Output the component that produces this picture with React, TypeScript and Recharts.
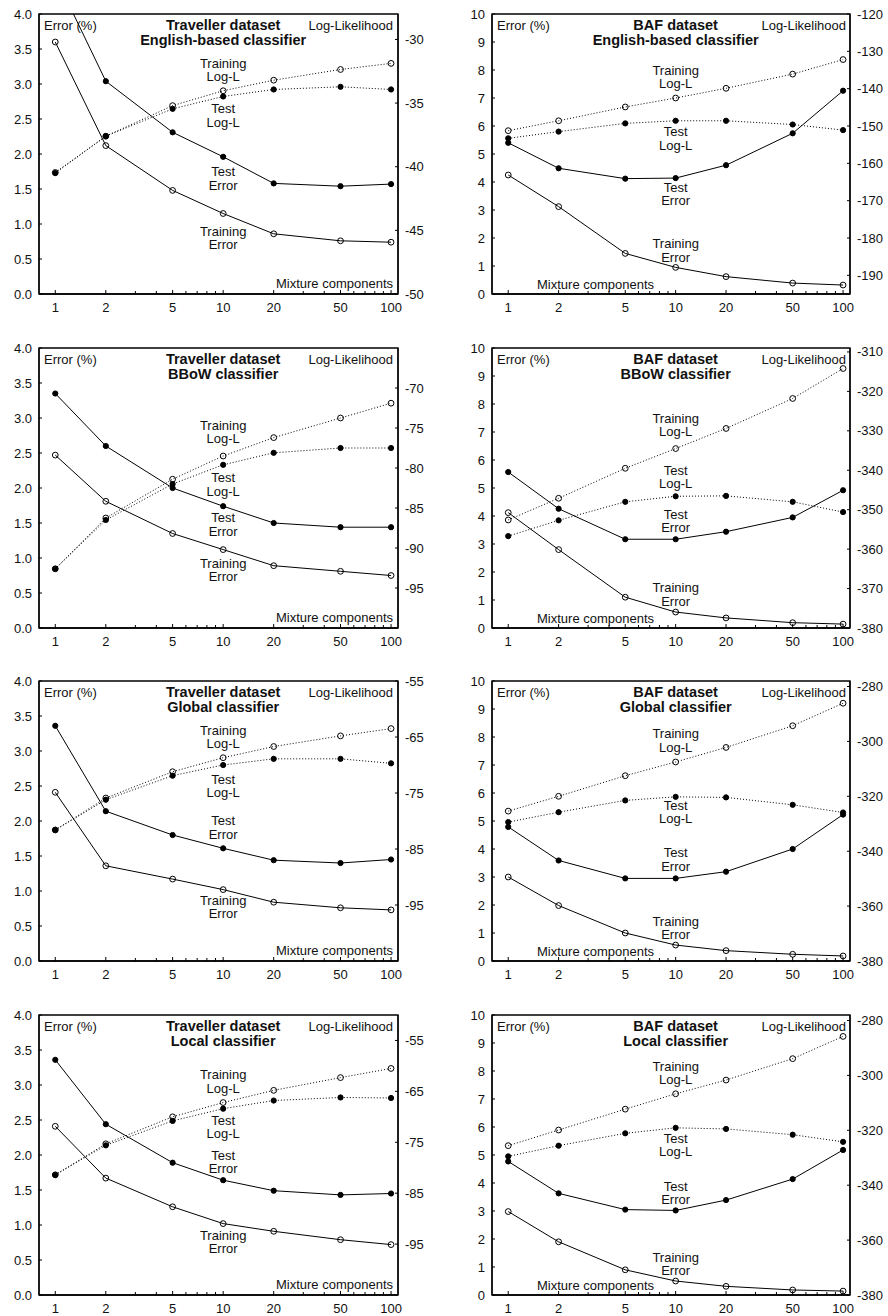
import React from 'react';
import { LineChart, Line, XAxis, YAxis, ReferenceArea, ReferenceDot } from 'recharts';

const components = [1, 2, 5, 10, 20, 50, 100];
const majorTicks = [1, 2, 5, 10, 20, 50, 100];
const xTicks = [1, 2, 3, 4, 5, 6, 7, 8, 9, 10, 20, 30, 40, 50, 60, 70, 80, 90, 100];

const travErrTicks = [0, 0.5, 1, 1.5, 2, 2.5, 3, 3.5, 4];
const bafErrTicks = [0, 1, 2, 3, 4, 5, 6, 7, 8, 9, 10];

// Traveller dataset, English-based classifier
const travEngTrainErr = [3.6, 2.12, 1.48, 1.15, 0.86, 0.76, 0.74];
const travEngTestErr = [4.54, 3.04, 2.31, 1.96, 1.58, 1.54, 1.57];
const travEngTrainLL = [-40.45, -37.6, -35.2, -34.03, -33.2, -32.36, -31.88];
const travEngTestLL = [-40.5, -37.6, -35.45, -34.48, -33.93, -33.72, -33.93];
const travEngLLTicks = [-50, -45, -40, -35, -30];

// BAF dataset, English-based classifier
const bafEngTrainErr = [4.25, 3.12, 1.45, 0.95, 0.62, 0.39, 0.32];
const bafEngTestErr = [5.4, 4.49, 4.12, 4.14, 4.6, 5.74, 7.26];
const bafEngTrainLL = [-151.25, -148.6, -144.9, -142.5, -139.9, -136.1, -132.2];
const bafEngTestLL = [-153.3, -151.5, -149.3, -148.6, -148.6, -149.6, -151.1];
const bafEngLLTicks = [-190, -180, -170, -160, -150, -140, -130, -120];

// Traveller dataset, BBoW classifier
const travBowTrainErr = [2.47, 1.81, 1.35, 1.12, 0.89, 0.81, 0.75];
const travBowTestErr = [3.35, 2.6, 2.0, 1.74, 1.5, 1.44, 1.44];
const travBowTrainLL = [-92.6, -86.25, -81.4, -78.5, -76.2, -73.75, -71.9];
const travBowTestLL = [-92.6, -86.5, -82.0, -79.6, -78.1, -77.5, -77.5];
const travBowLLTicks = [-95, -90, -85, -80, -75, -70];

// BAF dataset, BBoW classifier
const bafBowTrainErr = [4.12, 2.8, 1.1, 0.57, 0.36, 0.19, 0.14];
const bafBowTestErr = [5.57, 4.26, 3.17, 3.17, 3.44, 3.95, 4.92];
const bafBowTrainLL = [-352.6, -347.1, -339.5, -334.5, -329.4, -321.8, -314.2];
const bafBowTestLL = [-356.7, -352.7, -348.0, -346.6, -346.5, -348.0, -350.6];
const bafBowLLTicks = [-380, -370, -360, -350, -340, -330, -320, -310];

// Traveller dataset, Global classifier
const travGloTrainErr = [2.41, 1.36, 1.17, 1.02, 0.84, 0.76, 0.73];
const travGloTestErr = [3.36, 2.14, 1.8, 1.61, 1.44, 1.4, 1.45];
const travGloTrainLL = [-81.6, -75.9, -71.2, -68.7, -66.7, -64.8, -63.5];
const travGloTestLL = [-81.6, -76.2, -71.9, -70.0, -68.9, -68.9, -69.7];
const travGloLLTicks = [-95, -85, -75, -65, -55];

// BAF dataset, Global classifier
const bafGloTrainErr = [3.0, 1.98, 1.0, 0.57, 0.37, 0.24, 0.18];
const bafGloTestErr = [4.79, 3.59, 2.95, 2.95, 3.19, 4.0, 5.23];
const bafGloTrainLL = [-325.4, -320.0, -312.5, -307.5, -302.2, -294.3, -286.1];
const bafGloTestLL = [-329.4, -325.8, -321.5, -320.2, -320.4, -323.1, -325.9];
const bafGloLLTicks = [-380, -360, -340, -320, -300, -280];

// Traveller dataset, Local classifier
const travLocTrainErr = [2.41, 1.67, 1.26, 1.02, 0.91, 0.79, 0.72];
const travLocTestErr = [3.36, 2.44, 1.89, 1.64, 1.49, 1.43, 1.45];
const travLocTrainLL = [-81.4, -75.3, -70.0, -67.2, -64.8, -62.3, -60.5];
const travLocTestLL = [-81.4, -75.6, -70.8, -68.4, -66.8, -66.2, -66.3];
const travLocLLTicks = [-95, -85, -75, -65, -55];

// BAF dataset, Local classifier
const bafLocTrainErr = [2.98, 1.9, 0.9, 0.5, 0.31, 0.18, 0.14];
const bafLocTestErr = [4.77, 3.63, 3.05, 3.02, 3.39, 4.14, 5.18];
const bafLocTrainLL = [-325.6, -319.9, -312.3, -306.7, -301.7, -293.9, -285.8];
const bafLocTestLL = [-329.5, -325.6, -321.1, -319.1, -319.5, -321.6, -324.2];
const bafLocLLTicks = [-380, -360, -340, -320, -300, -280];

const FONT = '"Liberation Sans", Arial, Helvetica, sans-serif';
const INK = '#111';

const panels = [
  { dataset: 'Traveller dataset', clf: 'English-based classifier', baf: false,
    trainErr: travEngTrainErr, testErr: travEngTestErr, trainLL: travEngTrainLL, testLL: travEngTestLL,
    llDomain: [-50, -28], llTicks: travEngLLTicks, labelY: [3.2, 2.55, 1.65, 0.8] },
  { dataset: 'BAF dataset', clf: 'English-based classifier', baf: true,
    trainErr: bafEngTrainErr, testErr: bafEngTestErr, trainLL: bafEngTrainLL, testLL: bafEngTestLL,
    llDomain: [-195, -120], llTicks: bafEngLLTicks, labelY: [7.74, 5.56, 3.57, 1.56] },
  { dataset: 'Traveller dataset', clf: 'BBoW classifier', baf: false,
    trainErr: travBowTrainErr, testErr: travBowTestErr, trainLL: travBowTrainLL, testLL: travBowTestLL,
    llDomain: [-100, -65], llTicks: travBowLLTicks, labelY: [2.8, 2.05, 1.48, 0.83] },
  { dataset: 'BAF dataset', clf: 'BBoW classifier', baf: true,
    trainErr: bafBowTrainErr, testErr: bafBowTestErr, trainLL: bafBowTrainLL, testLL: bafBowTestLL,
    llDomain: [-380, -309], llTicks: bafBowLLTicks, labelY: [7.26, 5.4, 3.82, 1.2] },
  { dataset: 'Traveller dataset', clf: 'Global classifier', baf: false,
    trainErr: travGloTrainErr, testErr: travGloTestErr, trainLL: travGloTrainLL, testLL: travGloTestLL,
    llDomain: [-105, -55], llTicks: travGloLLTicks, labelY: [3.2, 2.5, 1.91, 0.77] },
  { dataset: 'BAF dataset', clf: 'Global classifier', baf: true,
    trainErr: bafGloTrainErr, testErr: bafGloTestErr, trainLL: bafGloTrainLL, testLL: bafGloTestLL,
    llDomain: [-380, -278], llTicks: bafGloLLTicks, labelY: [7.88, 5.32, 3.62, 1.17] },
  { dataset: 'Traveller dataset', clf: 'Local classifier', baf: false,
    trainErr: travLocTrainErr, testErr: travLocTestErr, trainLL: travLocTrainLL, testLL: travLocTestLL,
    llDomain: [-105, -50], llTicks: travLocLLTicks, labelY: [3.05, 2.4, 1.9, 0.76] },
  { dataset: 'BAF dataset', clf: 'Local classifier', baf: true,
    trainErr: bafLocTrainErr, testErr: bafLocTestErr, trainLL: bafLocTrainLL, testLL: bafLocTestLL,
    llDomain: [-380, -278], llTicks: bafLocLLTicks, labelY: [7.93, 5.36, 3.65, 1.1] },
];

const seriesNames = [['Training', 'Log-L'], ['Test', 'Log-L'], ['Test', 'Error'], ['Training', 'Error']];

const txt = { fontFamily: FONT, fontSize: 13, fill: INK };

const XTick = (props: any) => {
  const { x, y, payload } = props;
  const major = majorTicks.includes(payload.value);
  return (
    <g>
      <line x1={x} x2={x} y1={y} y2={y - (major ? 4 : 3)} stroke="#000" strokeWidth={1} />
      {major && (
        <text x={x} y={y + 18} textAnchor="middle" {...txt}>{payload.value}</text>
      )}
    </g>
  );
};

const LeftTick = (props: any) => {
  const { x, y, payload, baf } = props;
  const label = baf ? String(payload.value) : payload.value.toFixed(1);
  return (
    <g>
      <line x1={x} x2={x + 3} y1={y} y2={y} stroke="#000" strokeWidth={1} />
      <text x={x - 7} y={y + 4.5} textAnchor="end" {...txt}>{label}</text>
    </g>
  );
};

const RightTick = (props: any) => {
  const { x, y, payload } = props;
  return (
    <g>
      <line x1={x} x2={x - 3} y1={y} y2={y} stroke="#000" strokeWidth={1} />
      <text x={x + 7} y={y + 4.5} textAnchor="start" {...txt}>{payload.value}</text>
    </g>
  );
};

function Panel({ p, left, top }: any) {
  const data = components.map((n, i) => ({
    n,
    trainErr: p.trainErr[i],
    testErr: p.testErr[i],
    trainLL: p.trainLL[i],
    testLL: p.testLL[i],
  }));
  const errDomain = p.baf ? [0, 10] : [0, 4];
  const errTicks = p.baf ? bafErrTicks : travErrTicks;

  const corners = (lp: any) => {
    const vb = lp.viewBox;
    return (
      <g>
        <rect x={vb.x + 3} y={vb.y + 4} width={58} height={14} fill="#fff" />
        <text x={vb.x + 5} y={vb.y + 15.5} textAnchor="start" {...txt}>Error (%)</text>
        <text x={vb.x + vb.width - (p.baf ? 4 : 5)} y={vb.y + 15.5} textAnchor="end" {...txt}>Log-Likelihood</text>
        {p.baf ? (
          <text x={vb.x + 45} y={vb.y + vb.height - 5.5} textAnchor="start" {...txt}>Mixture components</text>
        ) : (
          <text x={vb.x + vb.width - 5} y={vb.y + vb.height - 6} textAnchor="end" {...txt}>Mixture components</text>
        )}
      </g>
    );
  };

  const title = (lp: any) => {
    const vb = lp.viewBox;
    const cx = vb.x + vb.width / 2;
    const cy = vb.y + vb.height / 2;
    return (
      <g>
        <text x={cx} y={cy + 15.5} textAnchor="middle" fontFamily={FONT} fontSize={14.5} fontWeight="bold" fill={INK}>{p.dataset}</text>
        <text x={cx} y={cy + 30.5} textAnchor="middle" fontFamily={FONT} fontSize={14.5} fontWeight="bold" fill={INK}>{p.clf}</text>
      </g>
    );
  };

  const twoLine = (a: string, b: string) => (lp: any) => {
    const vb = lp.viewBox;
    const cx = vb.x + vb.width / 2;
    const cy = vb.y + vb.height / 2;
    return (
      <g>
        <text x={cx} y={cy - 2.2} textAnchor="middle" {...txt}>{a}</text>
        <text x={cx} y={cy + 11.2} textAnchor="middle" {...txt}>{b}</text>
      </g>
    );
  };

  const openDot = { r: 2.9, fill: 'none', stroke: '#000', strokeWidth: 1, strokeDasharray: 'none' };
  const fullDot = { r: 2.6, fill: '#000', stroke: '#000', strokeWidth: 1, strokeDasharray: 'none' };

  return (
    <div style={{ position: 'absolute', left, top }}>
      <LineChart width={444} height={334} data={data} margin={{ top: 14, right: 0, bottom: 0, left: 0 }}>
        <XAxis
          dataKey="n"
          type="number"
          scale="log"
          domain={[0.8, 110]}
          allowDataOverflow
          ticks={xTicks}
          interval={0}
          height={40}
          tickSize={0}
          tickMargin={0}
          tickLine={false}
          axisLine={{ stroke: '#000', strokeWidth: 1.3 }}
          tick={(tp: any) => <XTick {...tp} />}
        />
        <YAxis
          yAxisId="err"
          type="number"
          domain={errDomain}
          allowDataOverflow
          ticks={errTicks}
          interval={0}
          width={p.baf ? 48 : 39}
          tickSize={0}
          tickMargin={0}
          tickLine={false}
          axisLine={{ stroke: '#000', strokeWidth: 1.3 }}
          tick={(tp: any) => <LeftTick {...tp} baf={p.baf} />}
        />
        <YAxis
          yAxisId="ll"
          orientation="right"
          type="number"
          domain={p.llDomain}
          allowDataOverflow
          ticks={p.llTicks}
          interval={0}
          width={p.baf ? 38 : 46}
          tickSize={0}
          tickMargin={0}
          tickLine={false}
          axisLine={{ stroke: '#000', strokeWidth: 1.3 }}
          tick={(tp: any) => <RightTick {...tp} />}
        />
        <ReferenceArea
          yAxisId="err"
          x1={0.8}
          x2={110}
          y1={errDomain[0]}
          y2={errDomain[1]}
          fill="none"
          stroke="#000"
          strokeWidth={1.3}
          label={{ content: corners }}
        />
        <ReferenceDot
          yAxisId="err"
          x={10}
          y={errDomain[1]}
          r={0.1}
          fill="none"
          stroke="none"
          ifOverflow="visible"
          label={{ content: title }}
        />
        {seriesNames.map((s, i) => (
          <ReferenceDot
            key={s.join('-') + i}
            yAxisId="err"
            x={10}
            y={p.labelY[i]}
            r={0.1}
            fill="none"
            stroke="none"
            label={{ content: twoLine(s[0], s[1]) }}
          />
        ))}
        <Line yAxisId="ll" dataKey="trainLL" stroke="#000" strokeWidth={1} strokeDasharray="1 2"
          dot={openDot} activeDot={false} isAnimationActive={false} />
        <Line yAxisId="ll" dataKey="testLL" stroke="#000" strokeWidth={1} strokeDasharray="1 2"
          dot={fullDot} activeDot={false} isAnimationActive={false} />
        <Line yAxisId="err" dataKey="testErr" stroke="#000" strokeWidth={1}
          dot={fullDot} activeDot={false} isAnimationActive={false} />
        <Line yAxisId="err" dataKey="trainErr" stroke="#000" strokeWidth={1}
          dot={openDot} activeDot={false} isAnimationActive={false} />
      </LineChart>
    </div>
  );
}

const rowTops = [0, 334, 667, 1001];

export default function App() {
  return (
    <div style={{ position: 'absolute', left: 0, top: 0, width: 888, height: 1316, background: '#fff' }}>
      {panels.map((p, i) => (
        <Panel key={i} p={p} left={i % 2 === 0 ? 0 : 444} top={rowTops[Math.floor(i / 2)]} />
      ))}
    </div>
  );
}
